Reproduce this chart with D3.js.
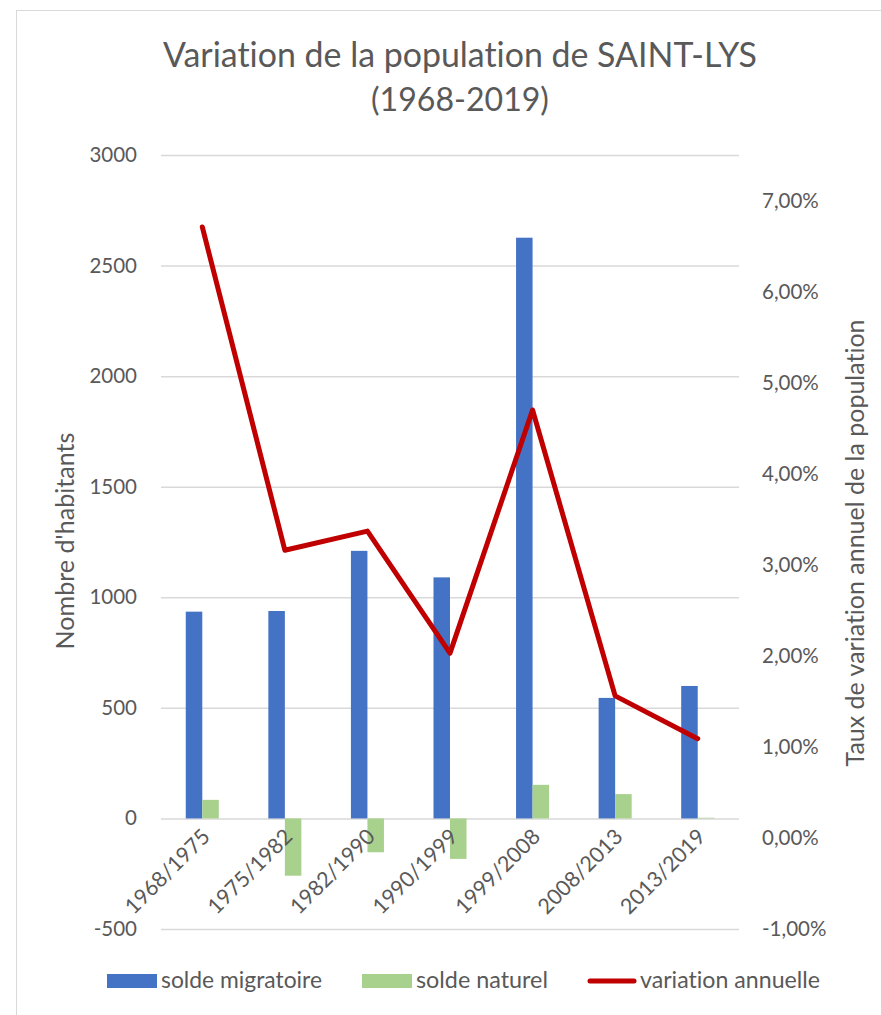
<!DOCTYPE html>
<html><head><meta charset="utf-8">
<script src="https://cdn.jsdelivr.net/npm/d3@7"></script>
<style>
html,body{margin:0;padding:0;background:#fff;}
svg text{font-family:Lato,"Open Sans",sans-serif;fill:#595959;font-variant-ligatures:none;font-feature-settings:"liga" 0;}
</style></head>
<body><svg id="c" width="881" height="1015"></svg>
<script>
const categories = ["1968/1975","1975/1982","1982/1990","1990/1999","1999/2008","2008/2013","2013/2019"];
const soldeMigratoire = [935, 938, 1210, 1090, 2626, 545, 599];
const soldeNaturel = [84, -259, -153, -183, 152, 110, 3];
const variationAnnuelle = [0.0671, 0.0316, 0.0337, 0.0203, 0.0470, 0.0156, 0.0109];
const leftTicks = [-500, 0, 500, 1000, 1500, 2000, 2500, 3000];
const rightTicks = [-0.01, 0, 0.01, 0.02, 0.03, 0.04, 0.05, 0.06, 0.07];
const seriesNames = ["solde migratoire", "solde naturel", "variation annuelle"];
const titleLines = ["Variation de la population de SAINT-LYS", "(1968-2019)"];

const svg = d3.select("#c");
const plot = {left:161, right:739, top:155, bottom:929};
const colors = {mig:"#4472C4", nat:"#A9D18E", line:"#C00000", grid:"#D9D9D9"};

function fit(sel, width){
  const n = sel.node();
  const fs = parseFloat(sel.attr("font-size"));
  const w = n.getComputedTextLength();
  sel.attr("font-size", (fs*width/w).toFixed(2));
}

// border
svg.append("rect").attr("x",16.5).attr("y",10.5).attr("width",1000).attr("height",1100)
  .attr("fill","none").attr("stroke","#D9D9D9").attr("stroke-width",1);

const x = d3.scaleBand().domain(categories).range([plot.left, plot.right]).padding(0);
const y = d3.scaleLinear().domain([-500, 3000]).range([plot.bottom, plot.top]);
const y2 = d3.scaleLinear().domain([-0.01, 0.075]).range([plot.bottom, plot.top]);

// gridlines + left axis
const gAxisL = svg.append("g").attr("transform",`translate(${plot.left},0)`)
  .call(d3.axisLeft(y).tickValues(leftTicks).tickSize(-(plot.right-plot.left)).tickPadding(24).tickFormat(d => String(d)));
gAxisL.select(".domain").remove();
gAxisL.selectAll(".tick line").attr("stroke",colors.grid).attr("stroke-width",1.5);
gAxisL.selectAll(".tick text").attr("font-size",20.5).attr("fill","#595959").style("font-family","Lato");

// right axis
const fmtPct = d => (d*100).toFixed(2).replace(".", ",").replace("\u2212","-") + "%";
const gAxisR = svg.append("g").attr("transform",`translate(${plot.right},0)`)
  .call(d3.axisRight(y2).tickValues(rightTicks).tickSize(0).tickPadding(23).tickFormat(fmtPct));
gAxisR.select(".domain").remove();
gAxisR.selectAll(".tick text").attr("font-size",20.5).attr("fill","#595959").style("font-family","Lato");

// bars
const gw = x.bandwidth()*0.4, bw = gw/2;
svg.append("g").selectAll("rect").data(categories).join("rect")
  .attr("x", d => x(d) + x.bandwidth()/2 - bw)
  .attr("width", bw)
  .attr("y", (d,i) => y(Math.max(0, soldeMigratoire[i])))
  .attr("height", (d,i) => Math.abs(y(soldeMigratoire[i]) - y(0)))
  .attr("fill", colors.mig);
svg.append("g").selectAll("rect").data(categories).join("rect")
  .attr("x", d => x(d) + x.bandwidth()/2)
  .attr("width", bw)
  .attr("y", (d,i) => y(Math.max(0, soldeNaturel[i])))
  .attr("height", (d,i) => Math.abs(y(soldeNaturel[i]) - y(0)))
  .attr("fill", colors.nat);

// line
const line = d3.line().x((d,i) => x(categories[i]) + x.bandwidth()/2).y(d => y2(d));
svg.append("path").datum(variationAnnuelle).attr("d", line)
  .attr("fill","none").attr("stroke",colors.line).attr("stroke-width",5)
  .attr("stroke-linejoin","round").attr("stroke-linecap","round");

// x labels
svg.append("g").selectAll("text").data(categories).join("text")
  .attr("transform", d => `translate(${x(d)+x.bandwidth()/2+9},${838}) rotate(-45)`)
  .attr("text-anchor","end").attr("font-size",21.5).text(d => d);

// title
titleLines.forEach((t,i) => {
  const tt = svg.append("text").attr("x",460).attr("y", i===0 ? 67 : 111)
    .attr("text-anchor","middle").attr("font-size",30).text(t);
  fit(tt, i===0 ? 594 : 178);
});

// axis titles
const lt = svg.append("text").attr("transform","translate(74,541) rotate(-90)")
  .attr("text-anchor","middle").attr("font-size",20).text("Nombre d'habitants");
fit(lt, 217);
const rt = svg.append("text").attr("transform","translate(864,543) rotate(-90)")
  .attr("text-anchor","middle").attr("font-size",20).text("Taux de variation annuel de la population");
fit(rt, 447);

// legend
const leg = svg.append("g");
const legItems = [
  {name:seriesNames[0], sx:107, tx:161, tw:161, type:"rect", color:colors.mig},
  {name:seriesNames[1], sx:362, tx:416, tw:132, type:"rect", color:colors.nat},
  {name:seriesNames[2], sx:587, tx:640, tw:180, type:"line", color:colors.line}
];
legItems.forEach(it => {
  if(it.type==="rect"){
    leg.append("rect").attr("x",it.sx).attr("y",974).attr("width",50).attr("height",14).attr("fill",it.color);
  } else {
    leg.append("line").attr("x1",it.sx+3).attr("x2",it.sx+47).attr("y1",981).attr("y2",981)
      .attr("stroke",it.color).attr("stroke-width",5).attr("stroke-linecap","round");
  }
  const t = leg.append("text").attr("x",it.tx).attr("y",988).attr("font-size",20).text(it.name);
  fit(t, it.tw);
});
</script></body></html>
